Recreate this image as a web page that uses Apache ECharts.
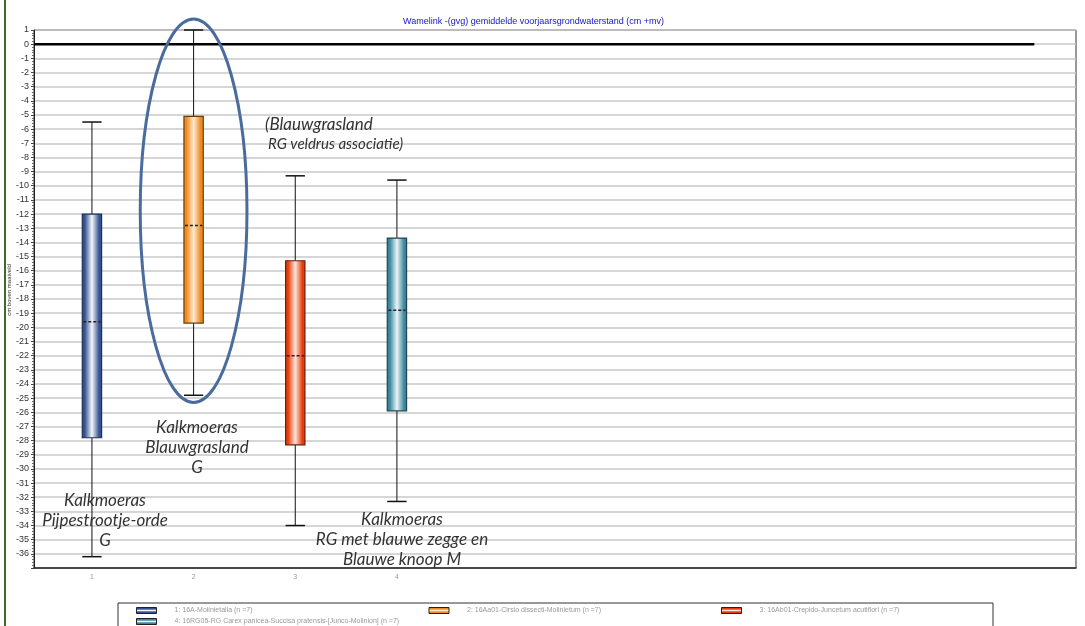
<!DOCTYPE html>
<html>
<head>
<meta charset="utf-8">
<script src="https://cdn.jsdelivr.net/npm/echarts@6/dist/echarts.min.js"></script>
<style>html,body{margin:0;padding:0;background:#fff}#c{width:1085px;height:626px}</style>
</head>
<body>
<div id="c"></div>
<script>
// ---- data ----
const categories = ['1', '2', '3', '4'];
const seriesNames = [
  '1: 16A-Molinietalia (n =7)',
  '2: 16Aa01-Cirsio dissecti-Molinietum (n =7)',
  '3: 16Ab01-Crepido-Juncetum acutiflori (n =7)',
  '4: 16RG05-RG Carex panicea-Succisa pratensis-[Junco-Molinion] (n =7)'
];
const whiskerHigh = [-5.5, 1.0, -9.3, -9.6];
const q3 = [-12.0, -5.1, -15.3, -13.7];
const median = [-19.6, -12.8, -22.0, -18.8];
const q1 = [-27.8, -19.7, -28.3, -25.9];
const whiskerLow = [-36.2, -24.8, -34.0, -32.3];
const yTicks = { min: -37, max: 1, interval: 1 };
const highlightEllipse = [2, -11.77, 0.525, 13.54]; // centre x, centre y, radius x, radius y (data units)

// ---- styles ----
const edgeColors = ['#34528f', '#ee8a20', '#e63c0a', '#3a879d'];
const centerColors = ['#f4f7fc', '#fdebd2', '#fde6de', '#eaf5f7'];
const borderColors = ['#1f2f55', '#6a3c0c', '#6a1c06', '#1c4550'];

function hGrad(i) {
  return new echarts.graphic.LinearGradient(0, 0, 1, 0, [
    { offset: 0, color: edgeColors[i] },
    { offset: 0.15, color: edgeColors[i] },
    { offset: 0.5, color: centerColors[i] },
    { offset: 0.85, color: edgeColors[i] },
    { offset: 1, color: edgeColors[i] }
  ]);
}
function vGrad(i) {
  return new echarts.graphic.LinearGradient(0, 0, 0, 1, [
    { offset: 0, color: edgeColors[i] },
    { offset: 0.3, color: edgeColors[i] },
    { offset: 0.5, color: centerColors[i] },
    { offset: 0.7, color: edgeColors[i] },
    { offset: 1, color: edgeColors[i] }
  ]);
}

function boxRender(i) {
  return function (params, api) {
    const x = api.value(0);
    const pHi = api.coord([x, api.value(1)]);
    const pQ3 = api.coord([x, api.value(2)]);
    const pMed = api.coord([x, api.value(3)]);
    const pQ1 = api.coord([x, api.value(4)]);
    const pLo = api.coord([x, api.value(5)]);
    const w = api.size([1, 0])[0] * 0.19;
    const cx = pHi[0];
    const capW = w;
    const lineStyle = { stroke: '#111', lineWidth: 1 };
    return {
      type: 'group',
      children: [
        { type: 'line', shape: { x1: cx, y1: pHi[1], x2: cx, y2: pQ3[1] }, style: lineStyle },
        { type: 'line', shape: { x1: cx, y1: pQ1[1], x2: cx, y2: pLo[1] }, style: lineStyle },
        { type: 'line', shape: { x1: cx - capW / 2, y1: pHi[1], x2: cx + capW / 2, y2: pHi[1] }, style: { stroke: '#111', lineWidth: 1.5 } },
        { type: 'line', shape: { x1: cx - capW / 2, y1: pLo[1], x2: cx + capW / 2, y2: pLo[1] }, style: { stroke: '#111', lineWidth: 1.5 } },
        { type: 'rect', shape: { x: cx - w / 2, y: pQ3[1], width: w, height: pQ1[1] - pQ3[1] },
          style: { fill: hGrad(i), stroke: borderColors[i], lineWidth: 1.2 } },
        { type: 'line', shape: { x1: cx - w / 2 + 1, y1: pMed[1], x2: cx + w / 2 - 1, y2: pMed[1] },
          style: { stroke: '#222', lineWidth: 1.5, lineDash: [3, 2] } }
      ]
    };
  };
}

const boxSeries = categories.map((c, i) => ({
  name: seriesNames[i],
  type: 'custom',
  renderItem: boxRender(i),
  encode: { x: 0, y: [1, 2, 3, 4, 5] },
  itemStyle: { color: edgeColors[i] },
  data: [[Number(c), whiskerHigh[i], q3[i], median[i], q1[i], whiskerLow[i]]],
  z: 5
}));

const annoFont = 'italic 17px Lato';

const chart = echarts.init(document.getElementById('c'), null, { renderer: 'canvas' });
chart.setOption({
  backgroundColor: '#fff',
  animation: false,
  title: {
    text: 'Wamelink -(gvg) gemiddelde voorjaarsgrondwaterstand (cm +mv)',
    left: 398, top: 12,
    textStyle: { fontSize: 9, fontWeight: 'normal', color: '#1414c8', fontFamily: 'Liberation Sans' }
  },
  grid: { left: 34, right: 9, top: 30, bottom: 58, show: true, borderColor: '#333', borderWidth: 1, backgroundColor: 'transparent' },
  xAxis: {
    type: 'value', min: 0.43, max: 10.68,
    splitLine: { show: false },
    axisLine: { show: true, onZero: false, lineStyle: { color: '#222', width: 1.5 } },
    axisTick: { show: false },
    axisLabel: {
      customValues: [1, 2, 3, 4],
      formatter: v => categories[Math.round(v) - 1] || '',
      fontSize: 7, color: '#999', margin: 6, fontFamily: 'Liberation Sans'
    }
  },
  yAxis: {
    type: 'value', min: yTicks.min, max: yTicks.max, interval: yTicks.interval,
    axisLine: { show: true, onZero: false, lineStyle: { color: '#222', width: 1 } },
    axisTick: { show: true, length: 3, lineStyle: { color: '#444' } },
    minorTick: { show: true, splitNumber: 5, length: 2, lineStyle: { color: '#666' } },
    splitLine: { show: true, lineStyle: { color: '#c9c9c9', width: 1.5 } },
    axisLabel: { fontSize: 9, color: '#333', margin: 5, showMinLabel: false, fontFamily: 'Liberation Sans' }
  },
  legend: {
    left: 131, top: 600, width: 880,
    itemGap: 0, itemWidth: 20, itemHeight: 6, icon: 'rect',
    selectedMode: false,
    data: seriesNames.map((n, i) => ({ name: n, itemStyle: { color: vGrad(i), borderColor: '#222', borderWidth: 1 } })),
    textStyle: { fontSize: 7, color: '#999', width: 254, padding: [0, 0, 0, 13], overflow: 'truncate', lineHeight: 11, fontFamily: 'Liberation Sans' }
  },
  graphic: [
    { type: 'line', shape: { x1: 5, y1: 0, x2: 5, y2: 626 }, style: { stroke: '#3f6a2a', lineWidth: 2 }, z: 100 },
    { type: 'rect', shape: { x: 118, y: 603, width: 875, height: 40 }, style: { fill: 'none', stroke: '#333', lineWidth: 1 }, z: 1 },
    { type: 'text', x: 9, y: 290, rotation: Math.PI / 2, style: { text: 'cm boven maaiveld', fontSize: 6, fill: '#333', align: 'center', verticalAlign: 'middle', fontFamily: 'Liberation Sans' }, z: 50 },
    { type: 'text', x: 105, y: 491, style: { text: 'Kalkmoeras\nPijpestrootje-orde\nG', font: annoFont, fill: '#333', align: 'center', lineHeight: 20 }, z: 50 },
    { type: 'text', x: 197, y: 418, style: { text: 'Kalkmoeras\nBlauwgrasland\nG', font: annoFont, fill: '#333', align: 'center', lineHeight: 20 }, z: 50 },
    { type: 'text', x: 265, y: 115, style: { text: '(Blauwgrasland', font: annoFont, fill: '#333', align: 'left', lineHeight: 20 }, z: 50 },
    { type: 'text', x: 268, y: 134, style: { text: 'RG veldrus associatie)', font: 'italic 15px Lato', fill: '#333', align: 'left', lineHeight: 20 }, z: 50 },
    { type: 'text', x: 402, y: 510, style: { text: 'Kalkmoeras\nRG met blauwe zegge en\nBlauwe knoop M', font: annoFont, fill: '#333', align: 'center', lineHeight: 20 }, z: 50 }
  ],
  series: [
    {
      name: 'zero', type: 'line', symbol: 'none', silent: true, z: 4,
      data: [[0.43, 0], [10.27, 0]],
      lineStyle: { color: '#000', width: 2.5 }
    },
    ...boxSeries,
    {
      name: 'highlight', type: 'custom', silent: true, clip: false, z: 6,
      data: [highlightEllipse],
      renderItem: function (params, api) {
        const c = api.coord([api.value(0), api.value(1)]);
        const s = api.size([api.value(2), api.value(3)]);
        return { type: 'ellipse', shape: { cx: c[0], cy: c[1], rx: s[0], ry: s[1] }, style: { fill: 'none', stroke: '#4a6c9c', lineWidth: 3 } };
      }
    }
  ]
});
</script>
</body>
</html>
